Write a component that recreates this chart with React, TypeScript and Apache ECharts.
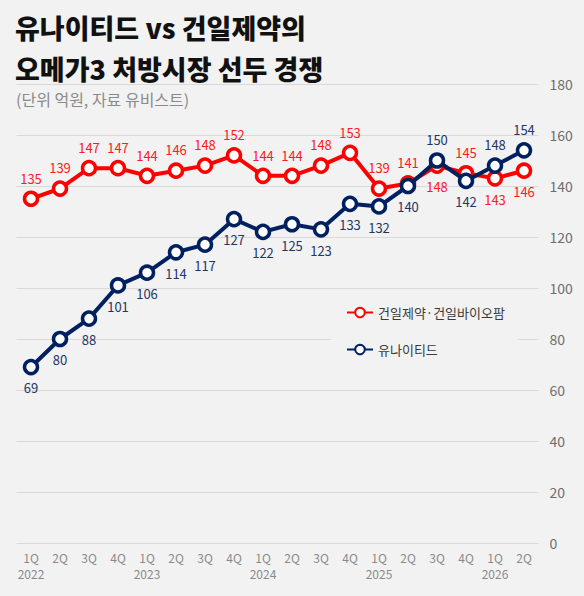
import React, { useEffect, useRef } from "react";
import * as echarts from "echarts";

const quarters = ["1Q", "2Q", "3Q", "4Q", "1Q", "2Q", "3Q", "4Q", "1Q", "2Q", "3Q", "4Q", "1Q", "2Q", "3Q", "4Q", "1Q", "2Q"];
const years = ["2022", "", "", "", "2023", "", "", "", "2024", "", "", "", "2025", "", "", "", "2026", ""];
const kunilValues = [135, 139, 147, 147, 144, 146, 148, 152, 144, 144, 148, 153, 139, 141, 148, 145, 143, 146];
const unitedValues = [69, 80, 88, 101, 106, 114, 117, 127, 122, 125, 123, 133, 132, 140, 150, 142, 148, 154];
// label placement: 1 = above, 0 = below
const kunilLabelTop = [1, 1, 1, 1, 1, 1, 1, 1, 1, 1, 1, 1, 1, 1, 0, 1, 0, 0];
const unitedLabelTop = [0, 0, 0, 0, 0, 0, 0, 0, 0, 0, 0, 0, 0, 0, 1, 0, 1, 1];
const yTicks = { min: 0, max: 180, interval: 20 };

const FONT = "'Noto Sans CJK KR', 'Noto Sans', sans-serif";
const RED = "#ff0000";
const NAVY = "#002060";

export default function App() {
  const ref = useRef<HTMLDivElement>(null);
  useEffect(() => {
    if (!ref.current) return;
    const chart = echarts.init(ref.current, null, { renderer: "svg" });
    const yearCats = years.map((y, i) => y || " ".repeat(i + 1));
    const mk = (vals: number[], tops: number[]) =>
      vals.map((v, i) => ({
        value: v,
        label: { position: tops[i] ? "top" : "bottom" },
      }));
    chart.setOption({
      animation: false,
      backgroundColor: "#f2f2f2",
      textStyle: { fontFamily: FONT },
      title: [
        {
          text: "유나이티드 vs 건일제약의\n오메가3 처방시장 선두 경쟁",
          left: 10,
          top: 2,
          textStyle: { fontFamily: FONT, fontSize: 27, fontWeight: 900, color: "#111", lineHeight: 41 },
        },
        {
          text: "(단위 억원, 자료 유비스트)",
          left: 11,
          top: 86,
          textStyle: { fontFamily: FONT, fontSize: 16, fontWeight: "normal", color: "#8a8a8a" },
        },
      ],
      legend: {
        orient: "vertical",
        left: 331,
        top: 300,
        padding: [6, 13, 6, 15],
        backgroundColor: "#f2f2f2",
        itemWidth: 26,
        itemHeight: 12,
        itemGap: 24,
        textStyle: { fontFamily: FONT, fontSize: 13, color: "#3a3a3a" },
        data: ["건일제약·건일바이오팜", "유나이티드"],
        z: 10,
      },
      grid: { left: 16.5, right: 45.5, top: 84, bottom: 53 },
      xAxis: [
        {
          type: "category",
          data: quarters.map((q, i) => q + " ".repeat(i)),
          boundaryGap: true,
          axisLine: { show: false },
          axisTick: { show: false },
          axisLabel: {
            color: "#8a8a8a", fontSize: 12, margin: 8, interval: 0, fontFamily: FONT,
            formatter: (v: string) => v.trim(),
          },
        },
        {
          type: "category",
          position: "bottom",
          data: yearCats,
          boundaryGap: true,
          axisLine: { show: false },
          axisTick: { show: false },
          splitLine: { show: false },
          axisLabel: {
            color: "#8a8a8a", fontSize: 12, margin: 24, interval: 0, fontFamily: FONT,
            formatter: (v: string) => v.trim(),
          },
        },
      ],
      yAxis: {
        type: "value",
        position: "right",
        min: yTicks.min,
        max: yTicks.max,
        interval: yTicks.interval,
        axisLine: { show: false },
        axisTick: { show: false },
        axisLabel: { color: "#6e6e6e", fontSize: 14, margin: 11, fontFamily: FONT },
        splitLine: { lineStyle: { color: "#d9d9d9", width: 1 } },
      },
      series: [
        {
          name: "건일제약·건일바이오팜",
          type: "line",
          xAxisIndex: 0,
          data: mk(kunilValues, kunilLabelTop),
          symbol: "circle",
          symbolSize: 13,
          lineStyle: { color: RED, width: 4 },
          itemStyle: { color: "#ffffff", borderColor: RED, borderWidth: 3.5 },
          label: { show: true, color: "#ff1a1a", fontSize: 13, distance: 6, fontFamily: FONT },
          z: 2,
        },
        {
          name: "유나이티드",
          type: "line",
          xAxisIndex: 0,
          data: mk(unitedValues, unitedLabelTop),
          symbol: "circle",
          symbolSize: 13,
          lineStyle: { color: NAVY, width: 4 },
          itemStyle: { color: "#ffffff", borderColor: NAVY, borderWidth: 3.5 },
          label: { show: true, color: "#1f3566", fontSize: 13, distance: 6, fontFamily: FONT },
          z: 3,
        },
      ],
    });
    return () => chart.dispose();
  }, []);
  return <div ref={ref} style={{ position: "fixed", left: 0, top: 0, width: 584, height: 596 }} />;
}
